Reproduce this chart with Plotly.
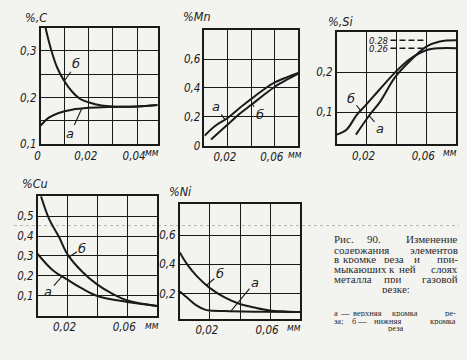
import plotly.graph_objects as go

# The page body has an 8px default margin; the figure is sized so that
# margin + figure fills the 467x360 window.
OFF = 8
W, H = 467 - OFF, 360 - OFF

# ---------------- data ----------------
C_x_a = [0, 0.0034, 0.0075, 0.013, 0.02, 0.03, 0.04, 0.0485]
C_a = [0.14, 0.157, 0.167, 0.174, 0.178, 0.18, 0.181, 0.184]
C_x_b = [0.002, 0.0041, 0.0068, 0.0096, 0.013, 0.0164, 0.0198, 0.0253, 0.03, 0.04, 0.0485]
C_b = [0.35, 0.307, 0.265, 0.237, 0.213, 0.197, 0.19, 0.183, 0.181, 0.181, 0.184]

Mn_x_a = [0, 0.009, 0.02, 0.03, 0.04, 0.05, 0.06, 0.071, 0.08]
Mn_a = [0.068, 0.136, 0.193, 0.261, 0.324, 0.385, 0.438, 0.476, 0.503]
Mn_x_b = [0.0056, 0.02, 0.03, 0.04, 0.05, 0.06, 0.071, 0.08]
Mn_b = [0.041, 0.147, 0.22, 0.283, 0.347, 0.408, 0.46, 0.499]

Si_x_a = [0.0129, 0.022, 0.029, 0.039, 0.049, 0.06, 0.069, 0.08]
Si_a = [0.044, 0.093, 0.126, 0.187, 0.228, 0.264, 0.277, 0.28]
Si_x_b = [0, 0.0067, 0.0133, 0.019, 0.029, 0.039, 0.049, 0.06, 0.069, 0.08]
Si_b = [0.044, 0.057, 0.093, 0.116, 0.158, 0.199, 0.233, 0.255, 0.26, 0.26]
Si_levels = [0.28, 0.26]
Si_level_labels = ["0,28", "0,26"]

Cu_x_a = [0, 0.0099, 0.02, 0.0297, 0.04, 0.06, 0.08]
Cu_a = [0.31, 0.23, 0.181, 0.137, 0.099, 0.069, 0.049]
Cu_x_b = [0.0022, 0.0077, 0.0143, 0.02, 0.0297, 0.04, 0.049, 0.06, 0.08]
Cu_b = [0.6, 0.485, 0.395, 0.308, 0.222, 0.156, 0.115, 0.077, 0.049]

Ni_x_a = [0, 0.0059, 0.0113, 0.0167, 0.02, 0.033, 0.055, 0.08]
Ni_a = [0.215, 0.164, 0.119, 0.092, 0.086, 0.081, 0.077, 0.075]
Ni_x_b = [0, 0.0048, 0.0113, 0.0196, 0.0298, 0.04, 0.0504, 0.0598, 0.07, 0.08]
Ni_b = [0.482, 0.402, 0.32, 0.242, 0.175, 0.13, 0.104, 0.086, 0.079, 0.075]

# tick labels
C_xticks = [0, 0.01, 0.02, 0.03, 0.04]
C_xtext = ["0", "", "0,02", "", "0,04"]
C_yticks = [0.1, 0.15, 0.2, 0.25, 0.3]
C_ytext = ["0,1", "", "0,2", "", "0,3"]
X8_ticks = [0.02, 0.04, 0.06]
X8_text = ["0,02", "", "0,06"]
Mn_yticks = [0, 0.2, 0.4, 0.6]
Mn_ytext = ["0", "0,2", "0,4", "0,6"]
Si_yticks = [0.1, 0.2]
Si_ytext = ["0,1", "0,2"]
Cu_yticks = [0.1, 0.2, 0.3, 0.4, 0.5]
Cu_ytext = ["0,1", "0,2", "0,3", "0,4", "0,5"]
Ni_yticks = [0.2, 0.4, 0.6]
Ni_ytext = ["0,2", "0,4", "0,6"]

# ---------------- layout helpers (window pixel -> paper) ----------------
def px(x):
    return (x - OFF) / W

def py(y):
    return 1 - (y - OFF) / H

INK = "#1a1a1a"
BG = "#f3f3f0"
NARROW = "Liberation Sans Narrow, DejaVu Sans Condensed, Liberation Sans"
TICKFONT = dict(family=NARROW, size=11.5, color=INK, style="italic")
SERIF = "Liberation Serif, DejaVu Serif, serif"

# panel boxes in window pixels: left, right, top, bottom
panels = {
    "C": (35, 153.5, 28, 147),
    "Mn": (201, 296, 30.7, 148.3),
    "Si": (335, 456, 32.7, 147),
    "Cu": (32, 153, 200, 322),
    "Ni": (176, 298, 208.3, 325),
}
ranges = {
    "C": ([0, 0.0485], [0.1, 0.35]),
    "Mn": ([0, 0.08], [0, 0.8]),
    "Si": ([0, 0.08], [0.02, 0.30]),
    "Cu": ([0, 0.08], [0, 0.6]),
    "Ni": ([0, 0.08], [0.03, 0.81]),
}
ticks = {
    "C": (C_xticks, C_xtext, C_yticks, C_ytext),
    "Mn": (X8_ticks, X8_text, Mn_yticks, Mn_ytext),
    "Si": (X8_ticks, X8_text, Si_yticks, Si_ytext),
    "Cu": (X8_ticks, X8_text, Cu_yticks, Cu_ytext),
    "Ni": (X8_ticks, X8_text, Ni_yticks, Ni_ytext),
}
order = ["C", "Mn", "Si", "Cu", "Ni"]

fig = go.Figure()
layout = {}
for i, k in enumerate(order, start=1):
    l, r, t, b = panels[k]
    xr, yr = ranges[k]
    xt, xtt, yt, ytt = ticks[k]
    sx = "" if i == 1 else str(i)
    common = dict(showline=True, mirror=True, linecolor=INK, linewidth=1.6,
                  showgrid=True, gridcolor=INK, gridwidth=1.1, zeroline=False,
                  ticks="", tickfont=TICKFONT, fixedrange=True)
    layout["xaxis" + sx] = dict(domain=[px(l), px(r)], range=xr, anchor="y" + sx,
                                tickmode="array", tickvals=xt, ticktext=xtt,
                                ticklabelshift=-3, **common)
    layout["yaxis" + sx] = dict(domain=[py(b), py(t)], range=yr, anchor="x" + sx,
                                tickmode="array", tickvals=yt, ticktext=ytt, **common)

series = {
    "C": [(C_x_a, C_a), (C_x_b, C_b)],
    "Mn": [(Mn_x_a, Mn_a), (Mn_x_b, Mn_b)],
    "Si": [(Si_x_a, Si_a), (Si_x_b, Si_b)],
    "Cu": [(Cu_x_a, Cu_a), (Cu_x_b, Cu_b)],
    "Ni": [(Ni_x_a, Ni_a), (Ni_x_b, Ni_b)],
}
for i, k in enumerate(order, start=1):
    sx = "" if i == 1 else str(i)
    for xs, ys in series[k]:
        fig.add_trace(go.Scatter(x=xs, y=ys, mode="lines", xaxis="x" + sx, yaxis="y" + sx,
                                 line=dict(color=INK, width=2, shape="spline", smoothing=1.0),
                                 showlegend=False, hoverinfo="skip"))

# dashed asymptote lines in Si panel
for lv in Si_levels:
    fig.add_trace(go.Scatter(x=[0.036, 0.06], y=[lv, lv], mode="lines", xaxis="x3", yaxis="y3",
                             line=dict(color=INK, width=1.4, dash="6px,3px"),
                             showlegend=False, hoverinfo="skip"))

annotations = []
LABELFONT = dict(family="DejaVu Sans, Liberation Sans", size=13, color=INK, style="italic")

# curve labels with leader lines: (axis suffix, text, label x, label y, point x, point y)
leaders = [
    ("", "б", 0.0148, 0.272, 0.0099, 0.236),
    ("", "а", 0.0123, 0.122, 0.017, 0.176),
    ("2", "а", 0.0096, 0.27, 0.0175, 0.18),
    ("2", "б", 0.047, 0.215, 0.0405, 0.29),
    ("3", "б", 0.0095, 0.135, 0.016, 0.104),
    ("3", "а", 0.029, 0.06, 0.0218, 0.091),
    ("4", "б", 0.030, 0.34, 0.021, 0.295),
    ("4", "а", 0.0072, 0.12, 0.016, 0.195),
    ("5", "б", 0.0265, 0.335, 0.0178, 0.258),
    ("5", "а", 0.050, 0.28, 0.0341, 0.083),
]
for sx, txt, lx, ly, ptx, pty in leaders:
    annotations.append(dict(xref="x" + sx, yref="y" + sx, x=ptx, y=pty,
                            axref="x" + sx, ayref="y" + sx, ax=lx, ay=ly,
                            text=txt, showarrow=True, arrowhead=0, arrowwidth=1.1,
                            arrowcolor=INK, font=LABELFONT, standoff=0, startstandoff=0))

# Si level labels
for lv, lt in zip(Si_levels, Si_level_labels):
    annotations.append(dict(xref="x3", yref="y3", x=0.0355, y=lv, text=lt, showarrow=False,
                            xanchor="right", yanchor="middle", borderpad=0, height=7,
                            font=dict(family=NARROW, size=9.5, color=INK, style="italic")))

# axis titles
TITLEFONT = dict(family=NARROW, size=12.5, color=INK, style="italic")
titles = [("%,C", 30, 18), ("%Mn", 193, 17), ("%,Si", 339, 22), ("%Cu", 29, 187), ("%Ni", 177, 195)]
for t, x, y in titles:
    annotations.append(dict(xref="paper", yref="paper", x=px(x), y=py(y), text=t,
                            showarrow=False, xanchor="center", yanchor="middle", font=TITLEFONT))

# units
units = [(148, 155), (293, 157), (450, 155), (148, 332), (292, 334)]
for x, y in units:
    annotations.append(dict(xref="paper", yref="paper", x=px(x), y=py(y), text="мм",
                            showarrow=False, xanchor="center", yanchor="middle",
                            font=dict(family=NARROW, size=10, color=INK, style="italic")))

# caption (word positions approximate justified print)
CS, SS = 11, 8.5
cap_lines = [
    (243, CS, [("Рис.", 331, "left"), ("90.", 365, "left"), ("Изменение", 459, "right")]),
    (254, CS, [("содержания", 331, "left"), ("элементов", 459, "right")]),
    (264, CS, [("в", 331, "left"), ("кромке", 340, "left"), ("реза", 382, "left"),
               ("и", 412, "left"), ("при-", 459, "right")]),
    (274, CS, [("мыкающих", 331, "left"), ("к", 387, "left"), ("ней", 397, "left"),
               ("слоях", 459, "right")]),
    (284, CS, [("металла", 331, "left"), ("при", 382, "left"), ("газовой", 459, "right")]),
    (294, CS, [("резке:", 395, "center")]),
    (320, SS, [("а", 331, "left"), ("—", 337, "left"), ("верхняя", 350, "left"),
               ("кромка", 390, "left"), ("ре-", 457, "right")]),
    (327.5, SS, [("за;", 331, "left"), ("б", 349, "left"), ("—", 355, "left"),
                 ("нижняя", 372, "left"), ("кромка", 457, "right")]),
    (335, SS, [("реза", 395, "center")]),
]
for y, size, words in cap_lines:
    hgt = 9 if size == CS else 6.5
    for w, x, anc in words:
        annotations.append(dict(xref="paper", yref="paper", x=px(x), y=py(y), text=w,
                                showarrow=False, xanchor=anc, yanchor="middle", borderpad=0,
                                height=hgt, valign="middle",
                                font=dict(family=SERIF, size=size, color="#2a2a2a")))

shapes = [dict(type="line", xref="paper", yref="paper", x0=0, x1=1, y0=py(230), y1=py(230),
               line=dict(color="#b8b8b4", width=1, dash="dot"), layer="below")]

fig.update_layout(width=W, height=H, margin=dict(l=0, r=0, t=0, b=0),
                  paper_bgcolor=BG, plot_bgcolor="rgba(0,0,0,0)",
                  annotations=annotations, shapes=shapes, showlegend=False, **layout)

fig.write_html("out.html", post_script="document.body.style.backgroundColor='%s';" % BG)
